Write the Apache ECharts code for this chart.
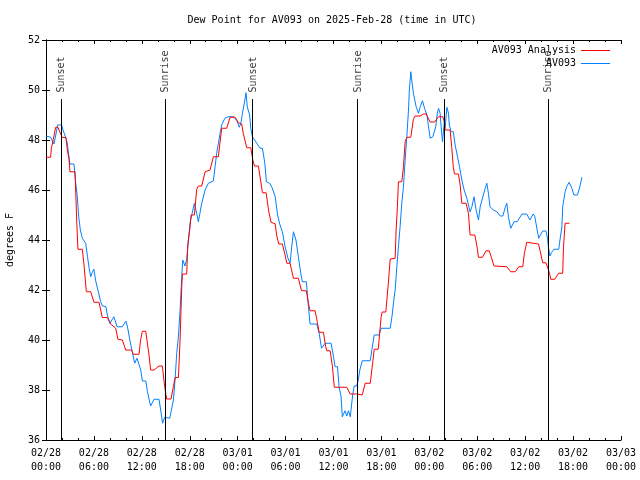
<!DOCTYPE html>
<html><head><meta charset="utf-8">
<script src="https://cdn.jsdelivr.net/npm/echarts@6.0.0/dist/echarts.min.js"></script>
<style>html,body{margin:0;padding:0;background:#fff}#c{width:640px;height:480px}</style>
</head><body><div id="c"></div>
<script>
const titleText = 'Dew Point for AV093 on 2025-Feb-28 (time in UTC)';
const seriesNames = ['AV093 Analysis', 'AV093'];
const xTickLabels = ['02/28\n00:00','02/28\n06:00','02/28\n12:00','02/28\n18:00','03/01\n00:00','03/01\n06:00','03/01\n12:00','03/01\n18:00','03/02\n00:00','03/02\n06:00','03/02\n12:00','03/02\n18:00','03/03\n00:00'];
const yLabel = 'degrees F';

// hours since 02/28 00:00 UTC
const redHours = [0,0.58,0.67,0.92,1.21,1.5,1.63,1.84,2.05,2.5,2.67,2.88,3.0,3.63,3.76,3.84,4.0,4.55,4.76,5.05,5.6,6.0,6.64,7.05,7.68,8.1,8.73,9.0,9.56,9.98,10.7,10.94,11.65,11.86,12.07,12.49,12.9,13.1,13.53,14.15,14.57,14.86,15.1,15.66,15.95,16.16,16.58,16.79,17.0,17.08,17.62,17.75,18.04,18.16,18.58,18.87,19.08,19.5,19.92,20.54,20.96,21.58,22.0,22.63,23.05,23.68,24.09,24.5,24.7,25.0,25.14,25.64,25.9,26.1,26.6,26.9,27.1,27.56,27.9,28.18,28.69,28.9,29.15,29.6,29.94,30.15,30.56,30.98,31.6,32.0,32.6,32.86,33.07,33.7,33.99,34.2,34.74,35.0,35.16,35.58,35.87,36.1,37.66,38.08,38.9,39.1,39.6,39.96,40.6,40.9,41.1,41.6,41.96,42.1,42.55,42.9,43.1,43.72,43.84,44.0,44.13,44.55,44.76,44.97,45.18,45.68,46.0,46.22,46.85,47.27,47.6,48.1,48.65,49.15,49.7,49.86,50.0,50.6,50.8,51.0,51.15,51.65,51.86,52.07,52.6,52.9,53.1,53.7,54.0,54.15,54.65,55.1,55.5,55.8,56.1,57.7,58.2,58.75,59.2,59.7,59.9,60.2,60.8,61.67,61.9,62.2,62.6,62.85,63.05,63.2,63.7,64.2,64.7,64.8,65.0,65.55];
const redValues = [47.31,47.31,47.67,48.03,48.51,48.51,48.4,48.24,48.1,48.1,47.6,47.23,46.73,46.73,45.6,44.8,43.63,43.63,43.0,41.93,41.93,41.51,41.51,40.9,40.9,40.64,40.47,40.03,40.0,39.6,39.6,39.43,39.43,40.03,40.35,40.35,39.4,38.8,38.8,38.96,38.96,38.13,37.64,37.64,38.13,38.5,38.5,40.0,42.13,42.64,42.64,43.8,44.53,45.0,45.0,46.03,46.16,46.16,46.73,46.8,47.33,47.33,48.47,48.47,48.91,48.91,48.69,48.64,48.27,47.87,47.69,47.69,47.2,46.96,46.96,46.33,45.89,45.89,45.13,44.71,44.65,44.16,43.84,43.84,43.4,43.07,43.07,42.47,42.47,41.97,41.97,41.47,41.17,41.17,40.69,40.31,40.31,39.76,39.57,39.57,38.93,38.11,38.11,37.84,37.84,37.8,37.8,38.27,38.27,39.07,39.63,39.63,40.91,41.12,41.12,42.4,43.24,43.27,44.4,45.33,46.33,46.33,46.93,47.93,48.11,48.11,48.83,48.96,48.96,49.04,49.04,48.72,48.72,48.93,48.93,48.73,48.4,48.4,47.73,46.93,46.64,46.64,46.2,45.47,45.47,45.07,44.2,44.2,43.67,43.31,43.31,43.57,43.57,43.27,42.96,42.93,42.73,42.73,42.93,42.93,43.47,43.91,43.88,43.84,43.53,43.09,43.09,42.87,42.67,42.43,42.43,42.67,42.67,43.73,44.67,44.67];

const blueHours = [0,0.58,0.8,0.9,1.0,1.25,1.46,1.96,2.1,2.4,2.67,2.75,3.0,3.5,3.7,3.9,4.1,4.3,4.55,4.97,5.2,5.4,5.6,5.8,6.0,6.2,6.5,6.85,7.05,7.5,7.68,8.0,8.5,8.9,9.56,10.0,10.2,10.5,10.8,11.1,11.4,11.65,11.86,12.07,12.5,12.7,13.1,13.53,14.15,14.36,14.6,14.86,15.5,15.95,16.16,16.37,16.58,16.79,17.0,17.12,17.4,17.62,17.8,18.04,18.25,18.58,18.87,19.08,19.5,19.92,20.33,20.96,21.17,21.37,21.8,22.0,22.4,22.8,23.5,23.9,24.2,24.4,24.6,24.9,25.05,25.2,25.5,25.64,25.85,26.1,26.4,26.8,27.1,27.4,27.6,28.0,28.3,28.7,29.0,29.3,29.6,29.94,30.3,30.56,30.77,30.98,31.1,31.3,31.6,31.9,32.1,32.6,32.86,33.07,33.9,34.2,34.5,34.95,35.7,36.0,36.2,36.5,36.7,36.95,37.1,37.45,37.66,37.87,38.1,38.4,38.6,38.9,39.1,39.3,39.6,40.6,40.9,41.1,41.7,41.96,43.1,43.35,43.55,43.72,43.93,44.13,44.34,44.55,44.76,44.97,45.18,45.39,45.5,45.68,45.8,46.0,46.35,46.64,46.85,47.14,47.4,47.7,47.9,48.1,48.44,48.65,48.8,49.0,49.15,49.35,49.48,49.65,49.86,49.98,50.2,50.4,50.5,50.73,51.0,51.23,51.53,51.78,52.07,52.36,52.7,52.9,53.1,53.33,53.6,53.86,54.15,54.37,54.7,55.0,55.2,55.4,55.6,56.0,56.46,56.87,57.2,57.5,57.7,57.9,58.2,58.6,59.0,59.6,60.2,60.6,61.0,61.2,61.5,61.7,61.9,62.2,62.6,62.8,62.93,63.1,63.3,63.6,64.2,64.3,64.6,64.7,65.0,65.2,65.5,65.85,66.1,66.55,66.9,67.1];
const blueValues = [48.16,48.11,47.97,48.05,47.84,48.24,48.6,48.6,48.43,48.16,47.87,47.63,47.04,47.04,46.33,45.8,44.93,44.4,44.07,43.87,43.33,42.87,42.53,42.71,42.83,42.4,42.0,41.53,41.37,41.33,41.0,40.67,40.93,40.53,40.53,40.76,40.53,40.0,39.53,39.07,39.27,39.3,38.8,38.36,38.36,37.93,37.36,37.63,37.63,37.2,36.67,36.91,36.87,37.6,38.4,39.47,40.13,41.2,42.53,43.2,42.96,43.23,43.87,44.67,45.0,45.47,45.07,44.73,45.47,46.0,46.27,46.36,46.93,47.47,48.27,48.6,48.87,48.93,48.93,48.77,48.51,48.67,49.07,49.6,49.89,49.33,49.0,48.47,48.13,48.07,47.87,47.67,47.67,47.07,46.33,46.27,46.1,45.73,45.0,44.6,44.33,43.73,43.27,43.07,43.73,44.33,44.4,44.0,43.33,42.67,42.33,42.33,41.33,40.64,40.64,40.27,39.67,39.87,39.87,39.33,38.93,38.93,38.13,37.73,36.93,37.17,36.96,37.17,36.93,37.8,38.16,38.16,38.4,38.8,39.17,39.17,39.8,40.2,40.2,40.47,40.47,41.0,41.6,42.0,42.93,43.73,44.53,45.47,46.13,47.2,48.13,49.2,50.0,50.73,50.4,49.87,49.33,49.07,49.33,49.57,49.27,49.0,48.53,48.07,48.13,48.07,48.53,49.07,49.27,49.07,48.53,47.93,48.67,48.5,49.31,49.07,48.6,48.33,48.33,47.8,47.33,46.93,46.4,46.0,45.67,45.4,45.13,45.33,45.73,45.2,44.8,45.33,45.73,46.07,46.27,45.87,45.33,45.2,45.13,44.96,44.96,45.3,45.47,44.93,44.47,44.73,44.73,45.04,45.04,44.8,45.04,44.95,44.4,44.07,44.2,44.36,44.36,44.07,43.67,43.36,43.5,43.63,43.63,43.87,44.53,45.33,45.93,46.13,46.31,46.07,45.8,45.8,46.2,46.51];

const sunHours = [1.85, 14.95, 25.85, 39.0, 49.85, 62.9];
const sunNames = ['Sunset', 'Sunrise', 'Sunset', 'Sunrise', 'Sunset', 'Sunrise'];
const sunLineTop = 49.64;

const FONT = 'DejaVu Sans Mono';
const X_MIN = 0, X_MAX = 72, X_INT = 6;
const Y_MIN = 36, Y_MAX = 52, Y_INT = 2;

const pairs = (hs, vs) => hs.map((h, i) => [h, vs[i]]);
const txt = { fontFamily: FONT, fontSize: 10, color: '#000' };
const line = { show: true, lineStyle: { color: '#000', width: 1 } };
const tick = { show: true, inside: true, length: 4, lineStyle: { color: '#000', width: 1 } };

const chart = echarts.init(document.getElementById('c'), null, { renderer: 'canvas' });
chart.setOption({
  animation: false,
  backgroundColor: '#fff',
  title: { text: titleText, left: 327, top: 10, textAlign: 'center',
    textStyle: Object.assign({ fontWeight: 'normal' }, txt) },
  legend: { data: seriesNames, orient: 'vertical', right: 25, top: 39, align: 'right',
    itemWidth: 29, itemHeight: 1, itemGap: 0, icon: 'rect',
    textStyle: Object.assign({ lineHeight: 13 }, txt) },
  grid: { left: 46, right: 19, top: 40, bottom: 40, containLabel: false, outerBoundsMode: 'none' },
  xAxis: [
    { type: 'value', min: X_MIN, max: X_MAX, interval: X_INT, axisLine: line, axisTick: tick,
      minorTick: { show: true, splitNumber: 3, length: 2, lineStyle: { color: '#000' } },
      splitLine: { show: false },
      axisLabel: Object.assign({ formatter: v => xTickLabels[Math.round((v - X_MIN) / X_INT)], lineHeight: 14, margin: 6 }, txt) },
    { type: 'value', position: 'top', min: X_MIN, max: X_MAX, interval: X_INT, axisLine: line, axisTick: tick,
      minorTick: { show: true, splitNumber: 3, length: 2, lineStyle: { color: '#000' } },
      splitLine: { show: false }, axisLabel: { show: false } }
  ],
  yAxis: [
    { type: 'value', min: Y_MIN, max: Y_MAX, interval: Y_INT, axisLine: line, axisTick: tick,
      splitLine: { show: false }, axisLabel: Object.assign({ margin: 6 }, txt),
      name: yLabel, nameLocation: 'middle', nameGap: 31, nameRotate: 90, nameTextStyle: txt },
    { type: 'value', position: 'right', min: Y_MIN, max: Y_MAX, interval: Y_INT, axisLine: line, axisTick: tick,
      splitLine: { show: false }, axisLabel: { show: false } }
  ],
  series: [
    { name: seriesNames[0], type: 'line', data: pairs(redHours, redValues), showSymbol: false, symbol: 'none',
      color: '#ff0000', lineStyle: { color: '#ff0000', width: 1 }, silent: true, z: 3 },
    { name: seriesNames[1], type: 'line', data: pairs(blueHours, blueValues), showSymbol: false, symbol: 'none',
      color: '#0080ff', lineStyle: { color: '#0080ff', width: 1 }, silent: true, z: 2 },
    { name: 'sun', type: 'scatter', silent: true, z: 4,
      data: sunHours.map((h, i) => ({ value: [h, sunLineTop], name: sunNames[i] })),
      symbolSize: 1, itemStyle: { color: 'rgba(0,0,0,0)' },
      label: Object.assign({ show: true, formatter: p => p.name, position: [0, 0], rotate: 90,
        align: 'left', verticalAlign: 'middle', offset: [6, 1] }, txt),
      markLine: { silent: true, symbol: ['none', 'none'], label: { show: false },
        lineStyle: { color: '#000', width: 1, type: 'solid' },
        data: sunHours.map(h => [{ coord: [h, sunLineTop] }, { coord: [h, Y_MIN] }]) } }
  ]
});
</script></body></html>
